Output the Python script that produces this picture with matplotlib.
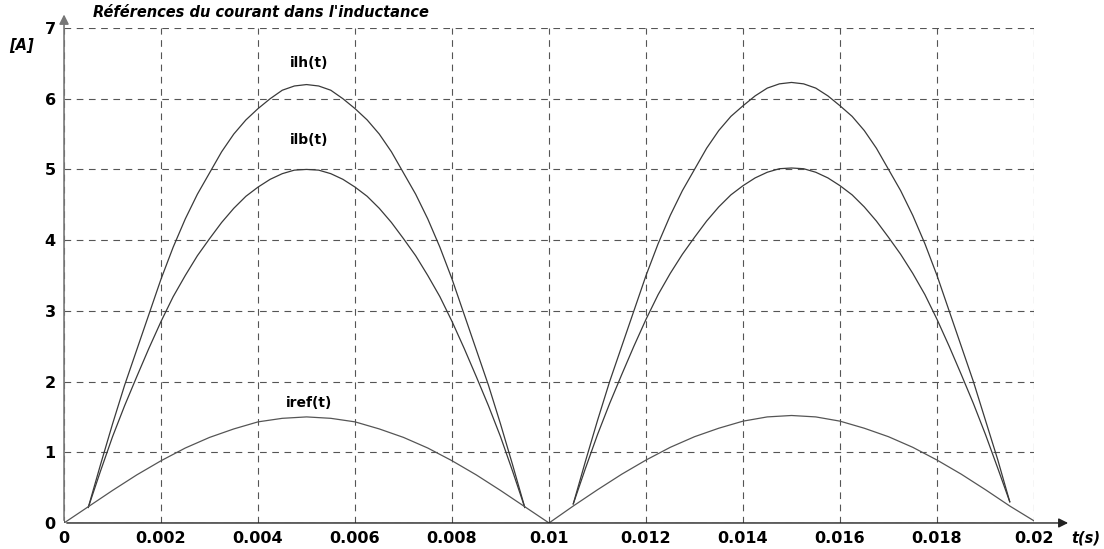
import matplotlib
matplotlib.use('Agg')
import matplotlib.pyplot as plt
import numpy as np

# Courbes (pas de 0.25 ms pour ilh / ilb, 0.5 ms pour iref)
t_h1 = np.linspace(0.0005, 0.0095, 37)
ilh_1 = [0.22, 0.82, 1.4, 1.95, 2.45, 2.95, 3.45, 3.9, 4.3, 4.65, 4.95, 5.25, 5.5, 5.7, 5.86, 6.0, 6.12, 6.18, 6.2,
         6.18, 6.12, 6.0, 5.86, 5.7, 5.5, 5.25, 4.95, 4.65, 4.3, 3.9, 3.45, 2.95, 2.45, 1.95, 1.4, 0.82, 0.22]
ilb_1 = [0.22, 0.73, 1.22, 1.66, 2.07, 2.47, 2.85, 3.2, 3.5, 3.78, 4.02, 4.25, 4.45, 4.62, 4.75, 4.86, 4.94, 4.99, 5.0,
         4.99, 4.94, 4.86, 4.75, 4.62, 4.45, 4.25, 4.02, 3.78, 3.5, 3.2, 2.85, 2.47, 2.07, 1.66, 1.22, 0.73, 0.22]

t_h2 = np.linspace(0.0105, 0.0195, 37)
ilh_2 = [0.27, 0.87, 1.45, 2.0, 2.5, 3.0, 3.5, 3.95, 4.35, 4.7, 5.0, 5.3, 5.55, 5.75, 5.9, 6.04, 6.15, 6.21, 6.23,
         6.21, 6.15, 6.04, 5.9, 5.75, 5.55, 5.3, 5.0, 4.7, 4.35, 3.95, 3.5, 3.0, 2.5, 2.0, 1.45, 0.9, 0.3]
ilb_2 = [0.27, 0.77, 1.25, 1.69, 2.1, 2.5, 2.88, 3.23, 3.53, 3.8, 4.04, 4.27, 4.47, 4.64, 4.77, 4.88, 4.96, 5.01, 5.02,
         5.01, 4.96, 4.88, 4.77, 4.64, 4.47, 4.27, 4.04, 3.8, 3.53, 3.23, 2.88, 2.5, 2.1, 1.69, 1.25, 0.78, 0.3]

t_ref = np.linspace(0.0, 0.02, 41)
iref = [0.0, 0.23, 0.46, 0.68, 0.88, 1.06, 1.21, 1.33, 1.43, 1.48, 1.5,
        1.48, 1.43, 1.33, 1.21, 1.06, 0.88, 0.68, 0.46, 0.23, 0.0,
        0.24, 0.47, 0.69, 0.89, 1.07, 1.22, 1.34, 1.44, 1.5, 1.52,
        1.5, 1.44, 1.34, 1.22, 1.07, 0.89, 0.69, 0.47, 0.24, 0.03]

x_ticks = [0, 0.002, 0.004, 0.006, 0.008, 0.01, 0.012, 0.014, 0.016, 0.018, 0.02]
x_labels = ['0', '0.002', '0.004', '0.006', '0.008', '0.01', '0.012', '0.014', '0.016', '0.018', '0.02']
y_ticks = [0, 1, 2, 3, 4, 5, 6, 7]

fig = plt.figure(figsize=(11.04, 5.49), dpi=100)
ax = fig.add_axes([0.058, 0.0474, 0.8786, 0.9016])

c = '#3a3a3a'
ax.plot(t_h1, ilh_1, color=c, lw=0.9)
ax.plot(t_h1, ilb_1, color=c, lw=0.9)
ax.plot(t_h2, ilh_2, color=c, lw=0.9)
ax.plot(t_h2, ilb_2, color=c, lw=0.9)
ax.plot(t_ref, iref, color='#555555', lw=0.9)

ax.set_xlim(0, 0.02)
ax.set_ylim(0, 7)
ax.set_xticks(x_ticks)
ax.set_xticklabels(x_labels)
ax.set_yticks(y_ticks)
ax.tick_params(length=0, labelsize=11.5)
ax.tick_params(axis='x', pad=6)
ax.tick_params(axis='y', pad=6)
for lab in ax.get_xticklabels() + ax.get_yticklabels():
    lab.set_fontweight('bold')

ax.grid(True, color='#555555', linestyle=(0, (6, 5)), linewidth=0.8)
for s in ['top', 'right', 'left', 'bottom']:
    ax.spines[s].set_visible(False)

# axes avec flèches
ax.annotate('', xy=(1.038, 0), xytext=(0, 0), xycoords='axes fraction',
            arrowprops=dict(arrowstyle='-|>', color='#222222', lw=1.0, mutation_scale=14),
            annotation_clip=False)
ax.annotate('', xy=(0, 1.033), xytext=(0, 0), xycoords='axes fraction',
            arrowprops=dict(arrowstyle='-|>', color='#777777', lw=1.2, mutation_scale=14),
            annotation_clip=False)

# textes
fig.text(0.084, 0.978, "Références du courant dans l'inductance", fontsize=10.5,
         fontweight='bold', fontstyle='italic', va='center', ha='left')
fig.text(0.008, 0.918, '[A]', fontsize=10.5, fontweight='bold', fontstyle='italic',
         va='center', ha='left')
fig.text(0.97, 0.02, 't(s)', fontsize=10.5, fontweight='bold', fontstyle='italic',
         va='center', ha='left')
ax.text(0.00505, 6.5, 'ilh(t)', fontsize=10, fontweight='bold', ha='center', va='center')
ax.text(0.00505, 5.42, 'ilb(t)', fontsize=10, fontweight='bold', ha='center', va='center')
ax.text(0.00505, 1.7, 'iref(t)', fontsize=10, fontweight='bold', ha='center', va='center')

fig.savefig('out.png', dpi=100, facecolor='white')
